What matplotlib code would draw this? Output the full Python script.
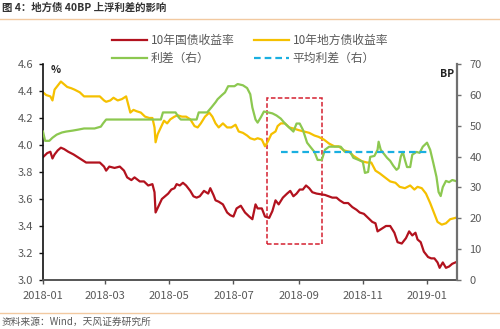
import pandas as pd
import matplotlib
matplotlib.use('Agg')
import matplotlib.pyplot as plt
import matplotlib.dates as mdates
from matplotlib.patches import Rectangle

plt.rcParams['font.family'] = ['Noto Sans CJK SC', 'DejaVu Sans']

start = pd.Timestamp('2018-01-01')

# 10年国债收益率 (%), days since 2018-01-01
gov_days = [0, 4, 7, 9, 11, 14, 17, 20, 24, 29, 33, 37, 41, 47, 54, 58, 60, 63, 68, 73,
            77, 80, 84, 87, 92, 96, 100, 104, 106, 107, 110, 113, 116, 119, 122, 125, 127, 130, 133, 136,
            140, 143, 146, 149, 153, 157, 159, 162, 164, 167, 171, 175, 178, 181, 184, 188, 192, 196, 199, 202,
            204, 208, 211, 215, 218, 221, 224, 228, 232, 235, 238, 241, 244, 247, 250, 253, 256, 260, 268, 275,
            279, 282, 286, 290, 294, 298, 301, 305, 309, 313, 316, 318, 322, 326, 330, 334, 337, 341, 345, 348,
            351, 354, 356, 359, 362, 366, 369, 372, 375, 377, 380, 383, 386, 389, 392]
gov_yield = [3.91, 3.94, 3.95, 3.90, 3.93, 3.96, 3.98, 3.97, 3.95, 3.93, 3.91, 3.89, 3.87, 3.87, 3.87, 3.84, 3.81, 3.84, 3.83, 3.84,
             3.81, 3.76, 3.74, 3.76, 3.73, 3.73, 3.70, 3.71, 3.65, 3.50, 3.55, 3.60, 3.62, 3.64, 3.67, 3.68, 3.71, 3.70, 3.72, 3.70,
             3.66, 3.62, 3.61, 3.62, 3.66, 3.64, 3.68, 3.63, 3.59, 3.58, 3.56, 3.50, 3.48, 3.47, 3.53, 3.55, 3.50, 3.47, 3.45, 3.56,
             3.53, 3.53, 3.47, 3.46, 3.51, 3.59, 3.56, 3.61, 3.64, 3.66, 3.62, 3.64, 3.67, 3.67, 3.70, 3.68, 3.65, 3.64, 3.63, 3.61,
             3.61, 3.59, 3.57, 3.57, 3.54, 3.52, 3.50, 3.49, 3.46, 3.43, 3.42, 3.36, 3.38, 3.40, 3.40, 3.35, 3.28, 3.27, 3.31, 3.36,
             3.33, 3.35, 3.30, 3.28, 3.21, 3.17, 3.16, 3.16, 3.13, 3.09, 3.13, 3.09, 3.10, 3.12, 3.13]

# 10年地方债收益率 (%)
loc_days = [0, 3, 7, 9, 11, 14, 17, 20, 23, 27, 30, 35, 39, 43, 48, 54, 58, 60, 64, 67,
            71, 75, 79, 81, 83, 86, 89, 93, 97, 101, 104, 106, 107, 109, 112, 115, 118, 121, 125, 128,
            132, 136, 140, 144, 147, 150, 154, 158, 161, 164, 167, 171, 175, 179, 183, 186, 190, 194, 197, 201,
            204, 208, 211, 214, 217, 221, 223, 226, 230, 234, 239, 243, 248, 253, 258, 262, 267, 272, 277, 281,
            286, 291, 295, 299, 303, 308, 312, 316, 320, 325, 330, 335, 339, 344, 349, 353, 356, 360, 364, 368,
            372, 375, 379, 383, 387, 392]
loc_yield = [4.39, 4.37, 4.36, 4.33, 4.41, 4.44, 4.47, 4.45, 4.43, 4.42, 4.41, 4.39, 4.36, 4.36, 4.36, 4.36, 4.33, 4.32, 4.33, 4.35,
             4.33, 4.34, 4.36, 4.30, 4.24, 4.26, 4.25, 4.24, 4.21, 4.20, 4.20, 4.13, 4.02, 4.08, 4.13, 4.18, 4.16, 4.19, 4.21, 4.22,
             4.21, 4.21, 4.19, 4.14, 4.13, 4.16, 4.21, 4.24, 4.21, 4.16, 4.13, 4.16, 4.13, 4.13, 4.15, 4.10, 4.09, 4.07, 4.05, 4.04,
             4.05, 4.04, 3.99, 4.03, 4.08, 4.10, 4.14, 4.16, 4.16, 4.13, 4.12, 4.11, 4.10, 4.09, 4.07, 4.06, 4.04, 4.01, 3.99, 3.99,
             3.96, 3.95, 3.92, 3.90, 3.88, 3.87, 3.87, 3.81, 3.79, 3.76, 3.73, 3.72, 3.69, 3.68, 3.70, 3.67, 3.69, 3.68, 3.64, 3.57,
             3.49, 3.43, 3.41, 3.42, 3.45, 3.46]

# 利差 (BP, 右轴)
spr_days = [0, 2, 6, 9, 13, 18, 22, 28, 33, 39, 49, 55, 57, 60, 73, 87, 102, 112, 114, 126,
            129, 131, 146, 148, 156, 160, 164, 166, 170, 173, 176, 182, 185, 190, 194, 197, 199, 202, 204, 207,
            210, 214, 218, 222, 226, 230, 234, 238, 241, 244, 247, 251, 254, 258, 261, 265, 268, 272, 278, 283,
            287, 292, 295, 300, 304, 306, 309, 311, 315, 318, 319, 321, 324, 327, 330, 333, 336, 338, 340, 342,
            344, 346, 349, 351, 355, 358, 361, 365, 368, 371, 374, 376, 378, 380, 383, 386, 389, 392]
spread = [48.1, 45.1, 45.1, 46.1, 47.1, 47.8, 48.1, 48.4, 48.7, 49.1, 49.1, 49.7, 50.7, 52.0, 52.0, 52.0, 52.0, 52.0, 54.3, 54.3,
          52.7, 52.0, 52.0, 54.3, 54.3, 55.9, 57.6, 58.6, 59.9, 60.8, 62.8, 62.8, 63.5, 63.1, 62.2, 60.2, 55.9, 52.0, 51.0, 52.7,
          54.6, 54.3, 54.0, 53.3, 52.3, 50.7, 49.4, 48.1, 50.7, 50.7, 48.7, 44.5, 43.2, 41.5, 38.9, 38.9, 42.2, 43.2, 43.2, 43.2,
          41.5, 41.5, 39.6, 38.9, 38.3, 34.7, 35.0, 39.9, 40.2, 42.2, 44.8, 42.2, 40.9, 39.6, 38.6, 37.0, 35.7, 36.3, 39.9, 41.5,
          38.9, 36.6, 36.6, 40.6, 41.5, 41.2, 43.2, 44.5, 42.2, 37.9, 33.4, 28.5, 27.2, 30.1, 32.1, 31.7, 32.4, 32.1]

# 平均利差 (BP, 右轴)
avg_days = [226, 365]
avg_spread = [41.5, 41.5]

# 红色虚线框 (days, %)
box_days = [213, 265]
box_range = [3.27, 4.35]


def to_dates(days):
    return start + pd.to_timedelta(days, unit='D')


grey = '#595959'
fig = plt.figure(figsize=(5, 3.29), dpi=100)
ax = fig.add_axes([0.086, 0.149, 0.828, 0.6565])
ax2 = ax.twinx()

l1, = ax.plot(to_dates(gov_days), gov_yield, color='#B2121E', lw=1.6, label='10年国债收益率')
l2, = ax.plot(to_dates(loc_days), loc_yield, color='#F5C000', lw=1.6, label='10年地方债收益率')
l3, = ax2.plot(to_dates(spr_days), spread, color='#8CC850', lw=1.6, label='利差（右）')
l4, = ax2.plot(to_dates(avg_days), avg_spread, color='#1AAFE0', lw=1.6, ls=(0, (3, 1.8)), label='平均利差（右）')

b0, b1 = mdates.date2num(to_dates(box_days))
ax.add_patch(Rectangle((b0, box_range[0]), b1 - b0, box_range[1] - box_range[0],
                       fill=False, ec='#D42030', lw=1.1, ls=(0, (3, 1.5))))

ax.set_xlim(start, start + pd.Timedelta(days=393.5))
ax.set_ylim(3.0, 4.6)
ax.set_yticks([3.0, 3.2, 3.4, 3.6, 3.8, 4.0, 4.2, 4.4, 4.6])
ax.yaxis.set_major_formatter(matplotlib.ticker.FormatStrFormatter('%.1f'))
ax2.set_ylim(0, 70)
ax2.set_yticks(range(0, 71, 10))
ax.xaxis.set_major_locator(mdates.MonthLocator(bymonth=[1, 3, 5, 7, 9, 11]))
ax.xaxis.set_major_formatter(mdates.DateFormatter('%Y-%m'))

for a in (ax, ax2):
    a.spines['top'].set_visible(False)
ax.spines['right'].set_visible(False)
ax2.spines['left'].set_visible(False)
ax2.spines['bottom'].set_visible(False)
ax.spines['left'].set_color('#111111')
ax.spines['left'].set_linewidth(1.2)
ax.spines['bottom'].set_color('#555555')
ax.spines['bottom'].set_linewidth(1.4)
ax2.spines['right'].set_color('#707070')
ax2.spines['right'].set_linewidth(1.6)

ax.tick_params(axis='y', labelsize=8, colors=grey, length=3, width=1, pad=4)
ax.tick_params(axis='x', labelsize=8, colors=grey, length=3, width=1, pad=5)
ax2.tick_params(axis='y', labelsize=8, colors=grey, length=3, width=1, pad=6)
ax.tick_params(axis='y', color='#111111')
ax.tick_params(axis='x', color='#555555')
ax2.tick_params(axis='y', color='#707070')

ax.text(0.031, 0.972, '%', transform=ax.transAxes, fontsize=7.5, fontweight='bold',
        color='#222222', ha='center', va='center')
ax.text(0.975, 0.955, 'BP', transform=ax.transAxes, fontsize=7.5, fontweight='bold',
        color='#222222', ha='center', va='center')

fig.legend([l1, l3, l2, l4], [l1.get_label(), l3.get_label(), l2.get_label(), l4.get_label()],
           ncol=2, loc='center', bbox_to_anchor=(0.5, 0.849), frameon=False,
           fontsize=8.5, handlelength=3.0, handletextpad=0.3, columnspacing=1.6,
           labelspacing=0.45, labelcolor=grey)

fig.text(0.004, 1 - 8 / 329, '图 4：地方债 40BP 上浮利差的影响', fontsize=7.5, fontweight='bold',
         color='#333333', ha='left', va='center')
fig.add_artist(plt.Line2D([0, 1], [1 - 19 / 329, 1 - 19 / 329], color='#F2C9A0', lw=1))
fig.add_artist(plt.Line2D([0, 1], [1 - 313 / 329, 1 - 313 / 329], color='#F2C9A0', lw=1))
fig.text(0.004, 1 - 322 / 329, '资料来源：Wind，天风证券研究所', fontsize=7, color=grey,
         ha='left', va='center')

fig.savefig('out.png', dpi=100)
